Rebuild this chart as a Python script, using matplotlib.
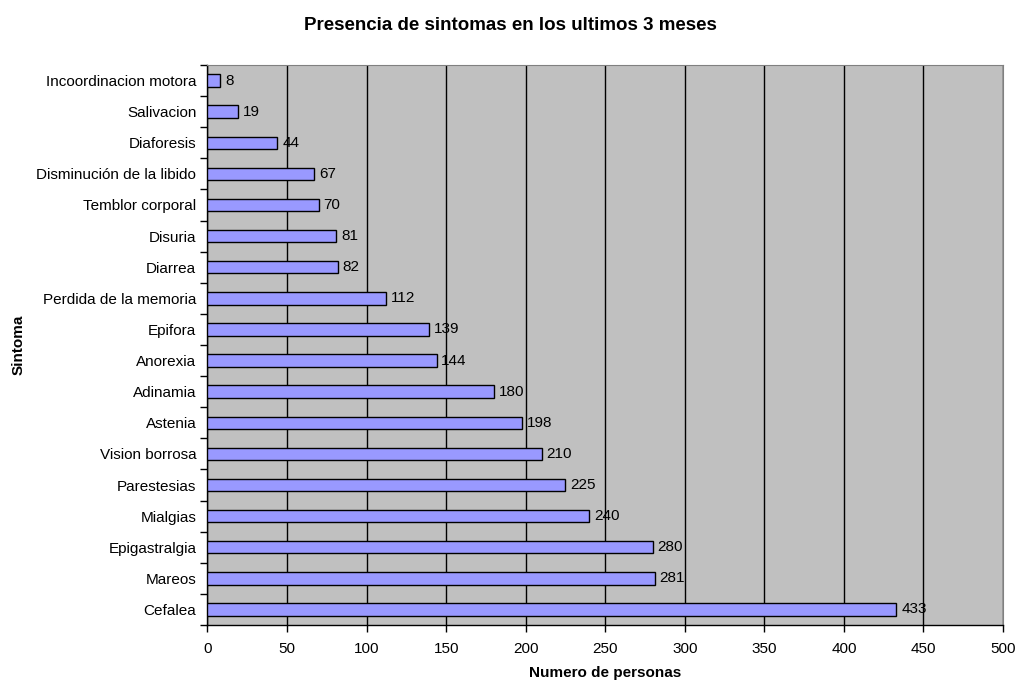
import matplotlib.pyplot as plt
import numpy as np

plt.rcParams['font.family'] = ['Liberation Sans', 'DejaVu Sans']

# sintomas de arriba hacia abajo
sintomas = ["Incoordinacion motora", "Salivacion", "Diaforesis",
            "Disminución de la libido", "Temblor corporal", "Disuria",
            "Diarrea", "Perdida de la memoria", "Epifora", "Anorexia",
            "Adinamia", "Astenia", "Vision borrosa", "Parestesias",
            "Mialgias", "Epigastralgia", "Mareos", "Cefalea"]
personas = [8, 19, 44, 67, 70, 81, 82, 112, 139, 144,
            180, 198, 210, 225, 240, 280, 281, 433]
xticks = [0, 50, 100, 150, 200, 250, 300, 350, 400, 450, 500]

fig = plt.figure(figsize=(10.19, 6.81), dpi=100)
ax = fig.add_axes([0.2036, 0.0822, 0.7807, 0.8224])
ax.set_facecolor('#C0C0C0')

n = len(sintomas)
y = np.arange(n)[::-1]
ax.barh(y, personas, height=0.4, color='#9999FF', edgecolor='black',
        linewidth=1, zorder=3)
for yi, v in zip(y, personas):
    ax.text(v + 3, yi, str(v), va='center', ha='left', fontsize=11, zorder=4)

ax.set_xlim(0, 500)
ax.set_ylim(-0.5, n - 0.5)
ax.set_xticks(xticks)
ax.set_xticklabels([str(t) for t in xticks], fontsize=11)
ax.set_yticks(y)
ax.set_yticklabels(sintomas, fontsize=11)
ax.set_yticks(np.arange(n + 1) - 0.5, minor=True)
ax.tick_params(axis='y', which='major', length=0, pad=8)
ax.tick_params(axis='y', which='minor', length=5, width=1)
ax.tick_params(axis='x', length=5, width=1, pad=7)
ax.xaxis.grid(True, color='black', linewidth=1, zorder=1)
ax.set_axisbelow(True)

for s in ['top', 'right']:
    ax.spines[s].set_color('#808080')
ax.spines['left'].set_linewidth(1)
ax.spines['bottom'].set_linewidth(1)

ax.set_xlabel('Numero de personas', fontsize=11, fontweight='bold')
ax.xaxis.set_label_coords(0.5, -0.0732)
ax.set_ylabel('Sintoma', fontsize=11, fontweight='bold')
ax.yaxis.set_label_coords(-0.228, 0.5)
fig.text(0.5005, 0.962, 'Presencia de sintomas en los ultimos 3 meses',
         ha='center', va='center', fontsize=13.5, fontweight='bold')

fig.savefig('out.png', dpi=100)
